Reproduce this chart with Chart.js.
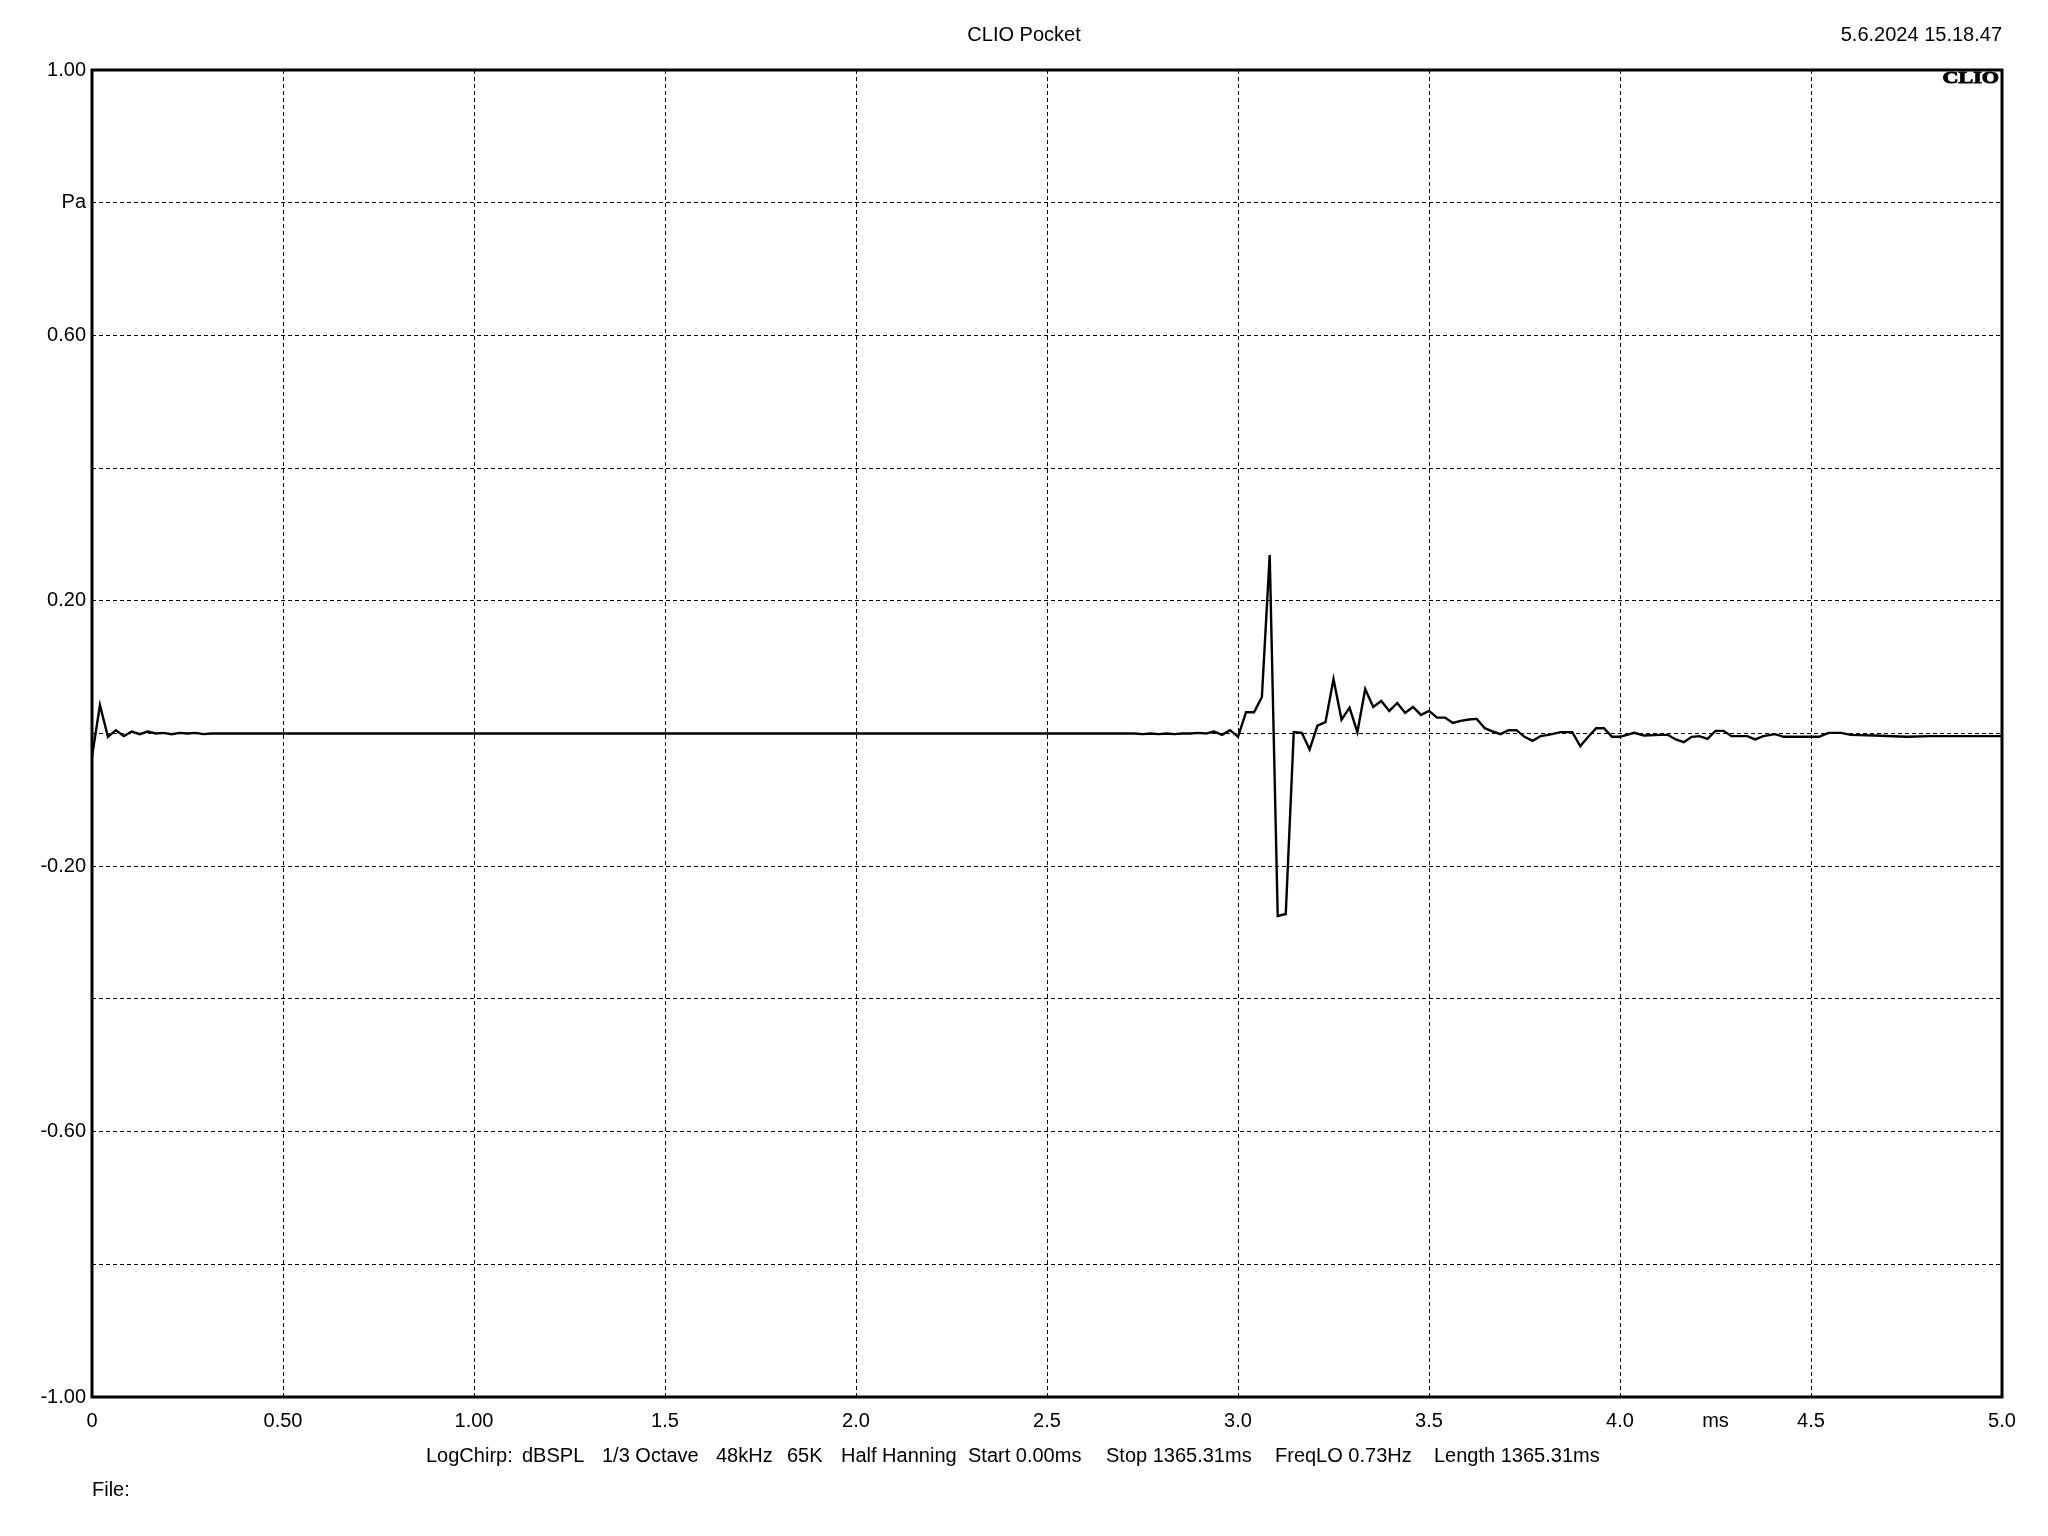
<!DOCTYPE html>
<html>
<head>
<meta charset="utf-8">
<script src="https://cdn.jsdelivr.net/npm/chart.js@4.4.1/dist/chart.umd.min.js"></script>
<style>
  html, body { margin: 0; padding: 0; background: #ffffff; }
  canvas { display: block; }
</style>
</head>
<body>
<canvas id="c" width="2048" height="1536"></canvas>
<script>
// ---- Data (time in ms, sound pressure in Pa) ----
const timeMs = [
  0, 0.0208, 0.0417, 0.0625, 0.0833, 0.1042, 0.125, 0.1458, 0.1667, 0.1875,
  0.2083, 0.2292, 0.25, 0.2708, 0.2917, 0.3125,
  2.729, 2.750, 2.771, 2.792, 2.813, 2.833, 2.854, 2.875, 2.896, 2.917,
  2.9375, 2.958, 2.979, 3.000, 3.021, 3.042, 3.0625, 3.083, 3.104, 3.125,
  3.146, 3.167, 3.1875, 3.208, 3.229, 3.25, 3.271, 3.292, 3.3125, 3.333,
  3.354, 3.375, 3.396, 3.417, 3.4375, 3.458, 3.479, 3.5, 3.521, 3.542,
  3.5625, 3.583, 3.604, 3.625, 3.646, 3.667, 3.6875, 3.708, 3.729, 3.75,
  3.771, 3.792, 3.8125, 3.845, 3.875, 3.896, 3.917, 3.9375, 3.958, 3.979,
  4.0, 4.037, 4.0625, 4.104, 4.125, 4.146, 4.167, 4.1875, 4.208, 4.229,
  4.25, 4.271, 4.292, 4.333, 4.354, 4.375, 4.406, 4.429, 4.458, 4.49,
  4.521, 4.546, 4.579, 4.604, 4.667, 4.75, 4.812, 5.0
];
const pressurePa = [
  -0.035, 0.043, -0.005, 0.005, -0.004, 0.003, -0.001, 0.003, 0.000, 0.001,
  -0.001, 0.001, 0.000, 0.001, -0.001, 0.000,
  0.000, -0.001, 0.000, -0.001, 0.000, -0.001, 0.000, 0.000, 0.001, 0.000,
  0.003, -0.002, 0.005, -0.005, 0.032, 0.032, 0.055, 0.269, -0.275, -0.272,
  0.002, 0.001, -0.024, 0.012, 0.017, 0.082, 0.021, 0.039, 0.002, 0.067,
  0.040, 0.049, 0.034, 0.046, 0.031, 0.040, 0.028, 0.034, 0.024, 0.024,
  0.016, 0.019, 0.021, 0.022, 0.008, 0.003, -0.001, 0.005, 0.005, -0.005,
  -0.011, -0.004, -0.002, 0.002, 0.002, -0.019, -0.005, 0.008, 0.008, -0.005,
  -0.005, 0.001, -0.003, -0.002, -0.002, -0.009, -0.013, -0.005, -0.004, -0.008,
  0.004, 0.004, -0.004, -0.004, -0.009, -0.004, -0.001, -0.005, -0.005, -0.005,
  -0.005, 0.001, 0.001, -0.002, -0.003, -0.005, -0.004, -0.004
];

// ---- Tick labels ----
const xTickValues = [0, 0.5, 1.0, 1.5, 2.0, 2.5, 3.0, 3.5, 4.0, 4.25, 4.5, 5.0];
const xTickLabels = ["0", "0.50", "1.00", "1.5", "2.0", "2.5", "3.0", "3.5", "4.0", "ms", "4.5", "5.0"];
const yTickValues = [-1.0, -0.8, -0.6, -0.4, -0.2, 0, 0.2, 0.4, 0.6, 0.8, 1.0];
const yTickLabels = ["-1.00", "", "-0.60", "", "-0.20", "", "0.20", "", "0.60", "Pa", "1.00"];

// ---- Texts ----
const titleText = "CLIO Pocket";
const dateText = "5.6.2024 15.18.47";
const logoText = "CLIO";
const footerParts = ["LogChirp:", "dBSPL", "1/3 Octave", "48kHz", "65K", "Half Hanning",
                     "Start 0.00ms", "Stop 1365.31ms", "FreqLO 0.73Hz", "Length 1365.31ms"];
const footerX = [426, 522, 602, 716, 787, 841, 968, 1106, 1275, 1434];
const fileText = "File:";

const FONT = '"Liberation Sans", Arial, sans-serif';

const points = timeMs.map((t, i) => ({ x: t, y: pressurePa[i] }));

function labelFor(values, labels, v) {
  for (let i = 0; i < values.length; i++) {
    if (Math.abs(values[i] - v) < 1e-6) return labels[i];
  }
  return "";
}

const overlay = {
  id: 'overlay',
  beforeDraw(chart) {
    const ctx = chart.ctx;
    ctx.save();
    ctx.fillStyle = '#ffffff';
    ctx.fillRect(0, 0, chart.width, chart.height);
    ctx.restore();
  },
  afterDraw(chart) {
    const ctx = chart.ctx;
    const a = chart.chartArea;
    ctx.save();
    // frame
    ctx.strokeStyle = '#000000';
    ctx.lineWidth = 3;
    ctx.setLineDash([]);
    ctx.strokeRect(a.left, a.top, a.right - a.left, a.bottom - a.top);

    ctx.fillStyle = '#000000';
    ctx.font = '20px ' + FONT;
    ctx.textBaseline = 'middle';
    ctx.textAlign = 'center';
    ctx.fillText(titleText, chart.width / 2, 35);
    ctx.textAlign = 'right';
    ctx.fillText(dateText, a.right, 35);

    ctx.textAlign = 'left';
    footerParts.forEach((p, i) => ctx.fillText(p, footerX[i], 1456));
    ctx.fillText(fileText, a.left, 1490);

    // logo
    ctx.save();
    ctx.font = 'bold 17px "Liberation Serif", "Times New Roman", serif';
    ctx.textAlign = 'right';
    ctx.textBaseline = 'middle';
    ctx.translate(a.right - 3, 79);
    ctx.scale(1.3, 1);
    ctx.strokeStyle = '#000000';
    ctx.lineWidth = 0.9;
    ctx.fillText(logoText, 0, 0);
    ctx.strokeText(logoText, 0, 0);
    ctx.restore();

    ctx.restore();
  }
};

new Chart(document.getElementById('c'), {
  type: 'line',
  data: {
    datasets: [{
      data: points,
      borderColor: '#000000',
      borderWidth: 2.4,
      pointRadius: 0,
      tension: 0,
      fill: false
    }]
  },
  options: {
    responsive: false,
    devicePixelRatio: 1,
    animation: false,
    layout: { padding: { top: 70, right: 46, left: 0, bottom: 0 } },
    plugins: { legend: { display: false }, tooltip: { enabled: false }, title: { display: false } },
    scales: {
      x: {
        type: 'linear',
        min: 0, max: 5,
        afterBuildTicks(scale) { scale.ticks = xTickValues.map(v => ({ value: v })); },
        afterFit(scale) { scale.height = 139; },
        ticks: {
          autoSkip: false,
          maxRotation: 0,
          padding: 12,
          color: '#000000',
          font: { family: FONT, size: 20 },
          callback: (v) => labelFor(xTickValues, xTickLabels, v)
        },
        grid: {
          drawTicks: false,
          lineWidth: 1,
          color: (c) => {
            const v = c.tick ? c.tick.value : null;
            if (v === null) return 'rgba(0,0,0,0)';
            if (Math.abs(v - 4.25) < 1e-6 || v <= 0 || v >= 5) return 'rgba(0,0,0,0)';
            return '#000000';
          }
        },
        border: { display: false, dash: [4, 3] }
      },
      y: {
        type: 'linear',
        min: -1, max: 1,
        afterBuildTicks(scale) { scale.ticks = yTickValues.map(v => ({ value: v })); },
        afterFit(scale) { scale.width = 92; },
        ticks: {
          autoSkip: false,
          padding: 6,
          color: '#000000',
          font: { family: FONT, size: 20 },
          callback: (v) => labelFor(yTickValues, yTickLabels, v)
        },
        grid: {
          drawTicks: false,
          lineWidth: 1,
          color: (c) => {
            const v = c.tick ? c.tick.value : null;
            if (v === null || v <= -1 || v >= 1) return 'rgba(0,0,0,0)';
            return '#000000';
          }
        },
        border: { display: false, dash: [4, 3] }
      }
    }
  },
  plugins: [overlay]
});
</script>
</body>
</html>
